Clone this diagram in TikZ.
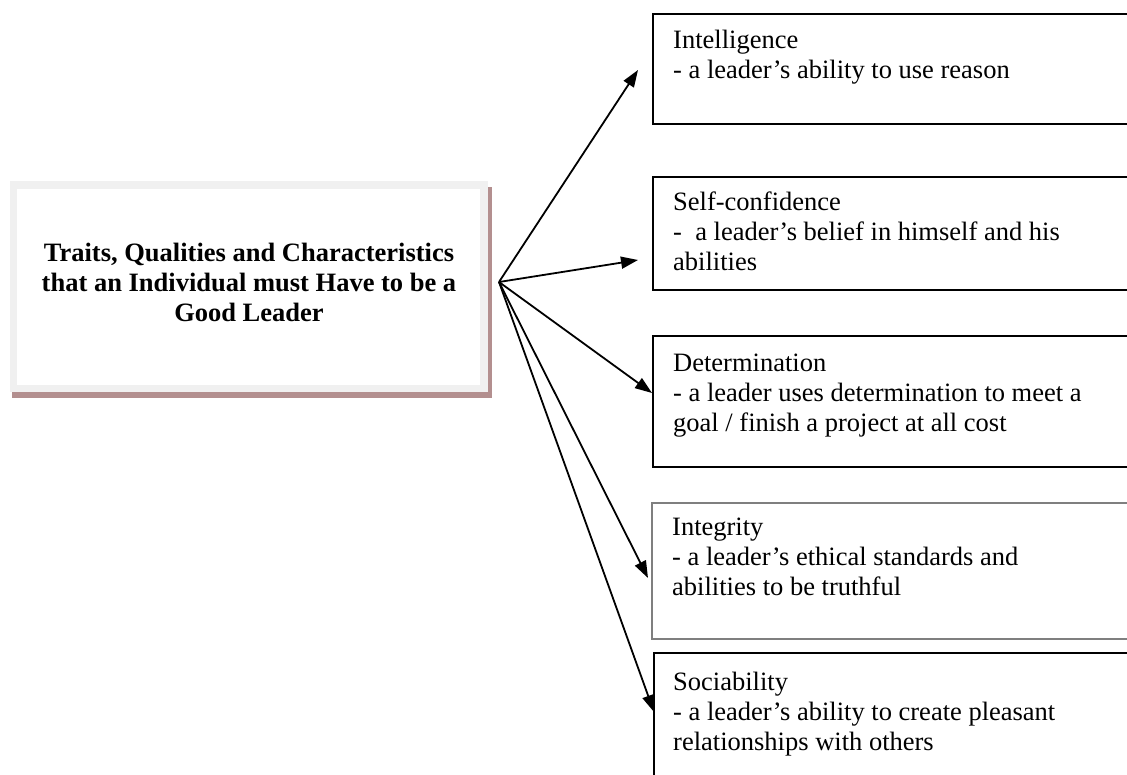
\documentclass[tikz,border=0pt]{standalone}
\usepackage{fontspec}
\setmainfont{Liberation Serif}
\usetikzlibrary{arrows.meta}
\definecolor{shadowrose}{HTML}{B38F8F}
\definecolor{framegray}{HTML}{F0F0F0}
\definecolor{midgray}{HTML}{7F7F7F}
\newcommand\linesL[1]{\begin{tabular}[t]{@{}l@{}}#1\end{tabular}}
\newcommand\linesC[1]{\begin{tabular}[t]{@{}c@{}}#1\end{tabular}}
\begin{document}
\begin{tikzpicture}[x=1pt,y=-1pt,
  trait/.style={draw=black, line width=1.9pt, minimum width=540pt, anchor=north west, inner sep=0pt},
  traittext/.style={anchor=base west, inner sep=0pt, font=\fontsize{26.5}{30.3}\selectfont},
  link/.style={line width=1.8pt, -{Triangle[length=17pt,width=12pt]}}]
\useasboundingbox (0,0) rectangle (1127,774);
\clip (0,0) rectangle (1127,774);
\fill[white] (0,0) rectangle (1127,774);
% left box
\fill[shadowrose] (12,187) rectangle (492,398);
\node[fill=framegray, minimum width=478pt, minimum height=211pt, inner sep=0pt] (frame) at (249,286.5) {};
\node[fill=white, minimum width=463pt, minimum height=196pt, inner sep=0pt] (title) at (248.5,287) {};
\node[font=\bfseries\fontsize{26.5}{30.3}\selectfont, anchor=base, inner sep=0pt] (titletext) at (249,261)
  {\linesC{Traits, Qualities and Characteristics\\that an Individual must Have to be a\\Good Leader}};
% trait boxes
\node[trait, minimum height=110pt] (b1) at (652,13) {};
\node[trait, minimum height=113pt] (b2) at (652,176) {};
\node[trait, minimum height=131pt] (b3) at (652,335) {};
\node[trait, draw=midgray, line width=1.6pt, minimum height=136pt] (b4) at (651,502) {};
\node[trait, minimum height=200pt] (b5) at (653,652) {};
% texts
\node[traittext] (t1) at (673,48) {\linesL{Intelligence\\- a leader’s ability to use reason}};
\node[traittext] (t2) at (673,210) {\linesL{Self-confidence\\-\ \ a leader’s belief in himself and his\\abilities}};
\node[traittext] (t3) at (673,371) {\linesL{Determination\\- a leader uses determination to meet a\\goal / finish a project at all cost}};
\node[traittext] (t4) at (672,535) {\linesL{Integrity\\- a leader’s ethical standards and\\abilities to be truthful}};
\node[traittext] (t5) at (673,690) {\linesL{Sociability\\- a leader’s ability to create pleasant\\relationships with others}};
% connectors
\coordinate (hub) at (499,282);
\coordinate (e1) at (638,70);
\coordinate (e2) at (638,260);
\coordinate (e3) at (652,393);
\coordinate (e4) at (648,578);
\coordinate (e5) at (654,712);
\draw[link] (hub) -- (e1);
\draw[link] (hub) -- (e2);
\draw[link] (hub) -- (e3);
\draw[link] (hub) -- (e4);
\draw[link] (hub) -- (e5);
\end{tikzpicture}
\end{document}
